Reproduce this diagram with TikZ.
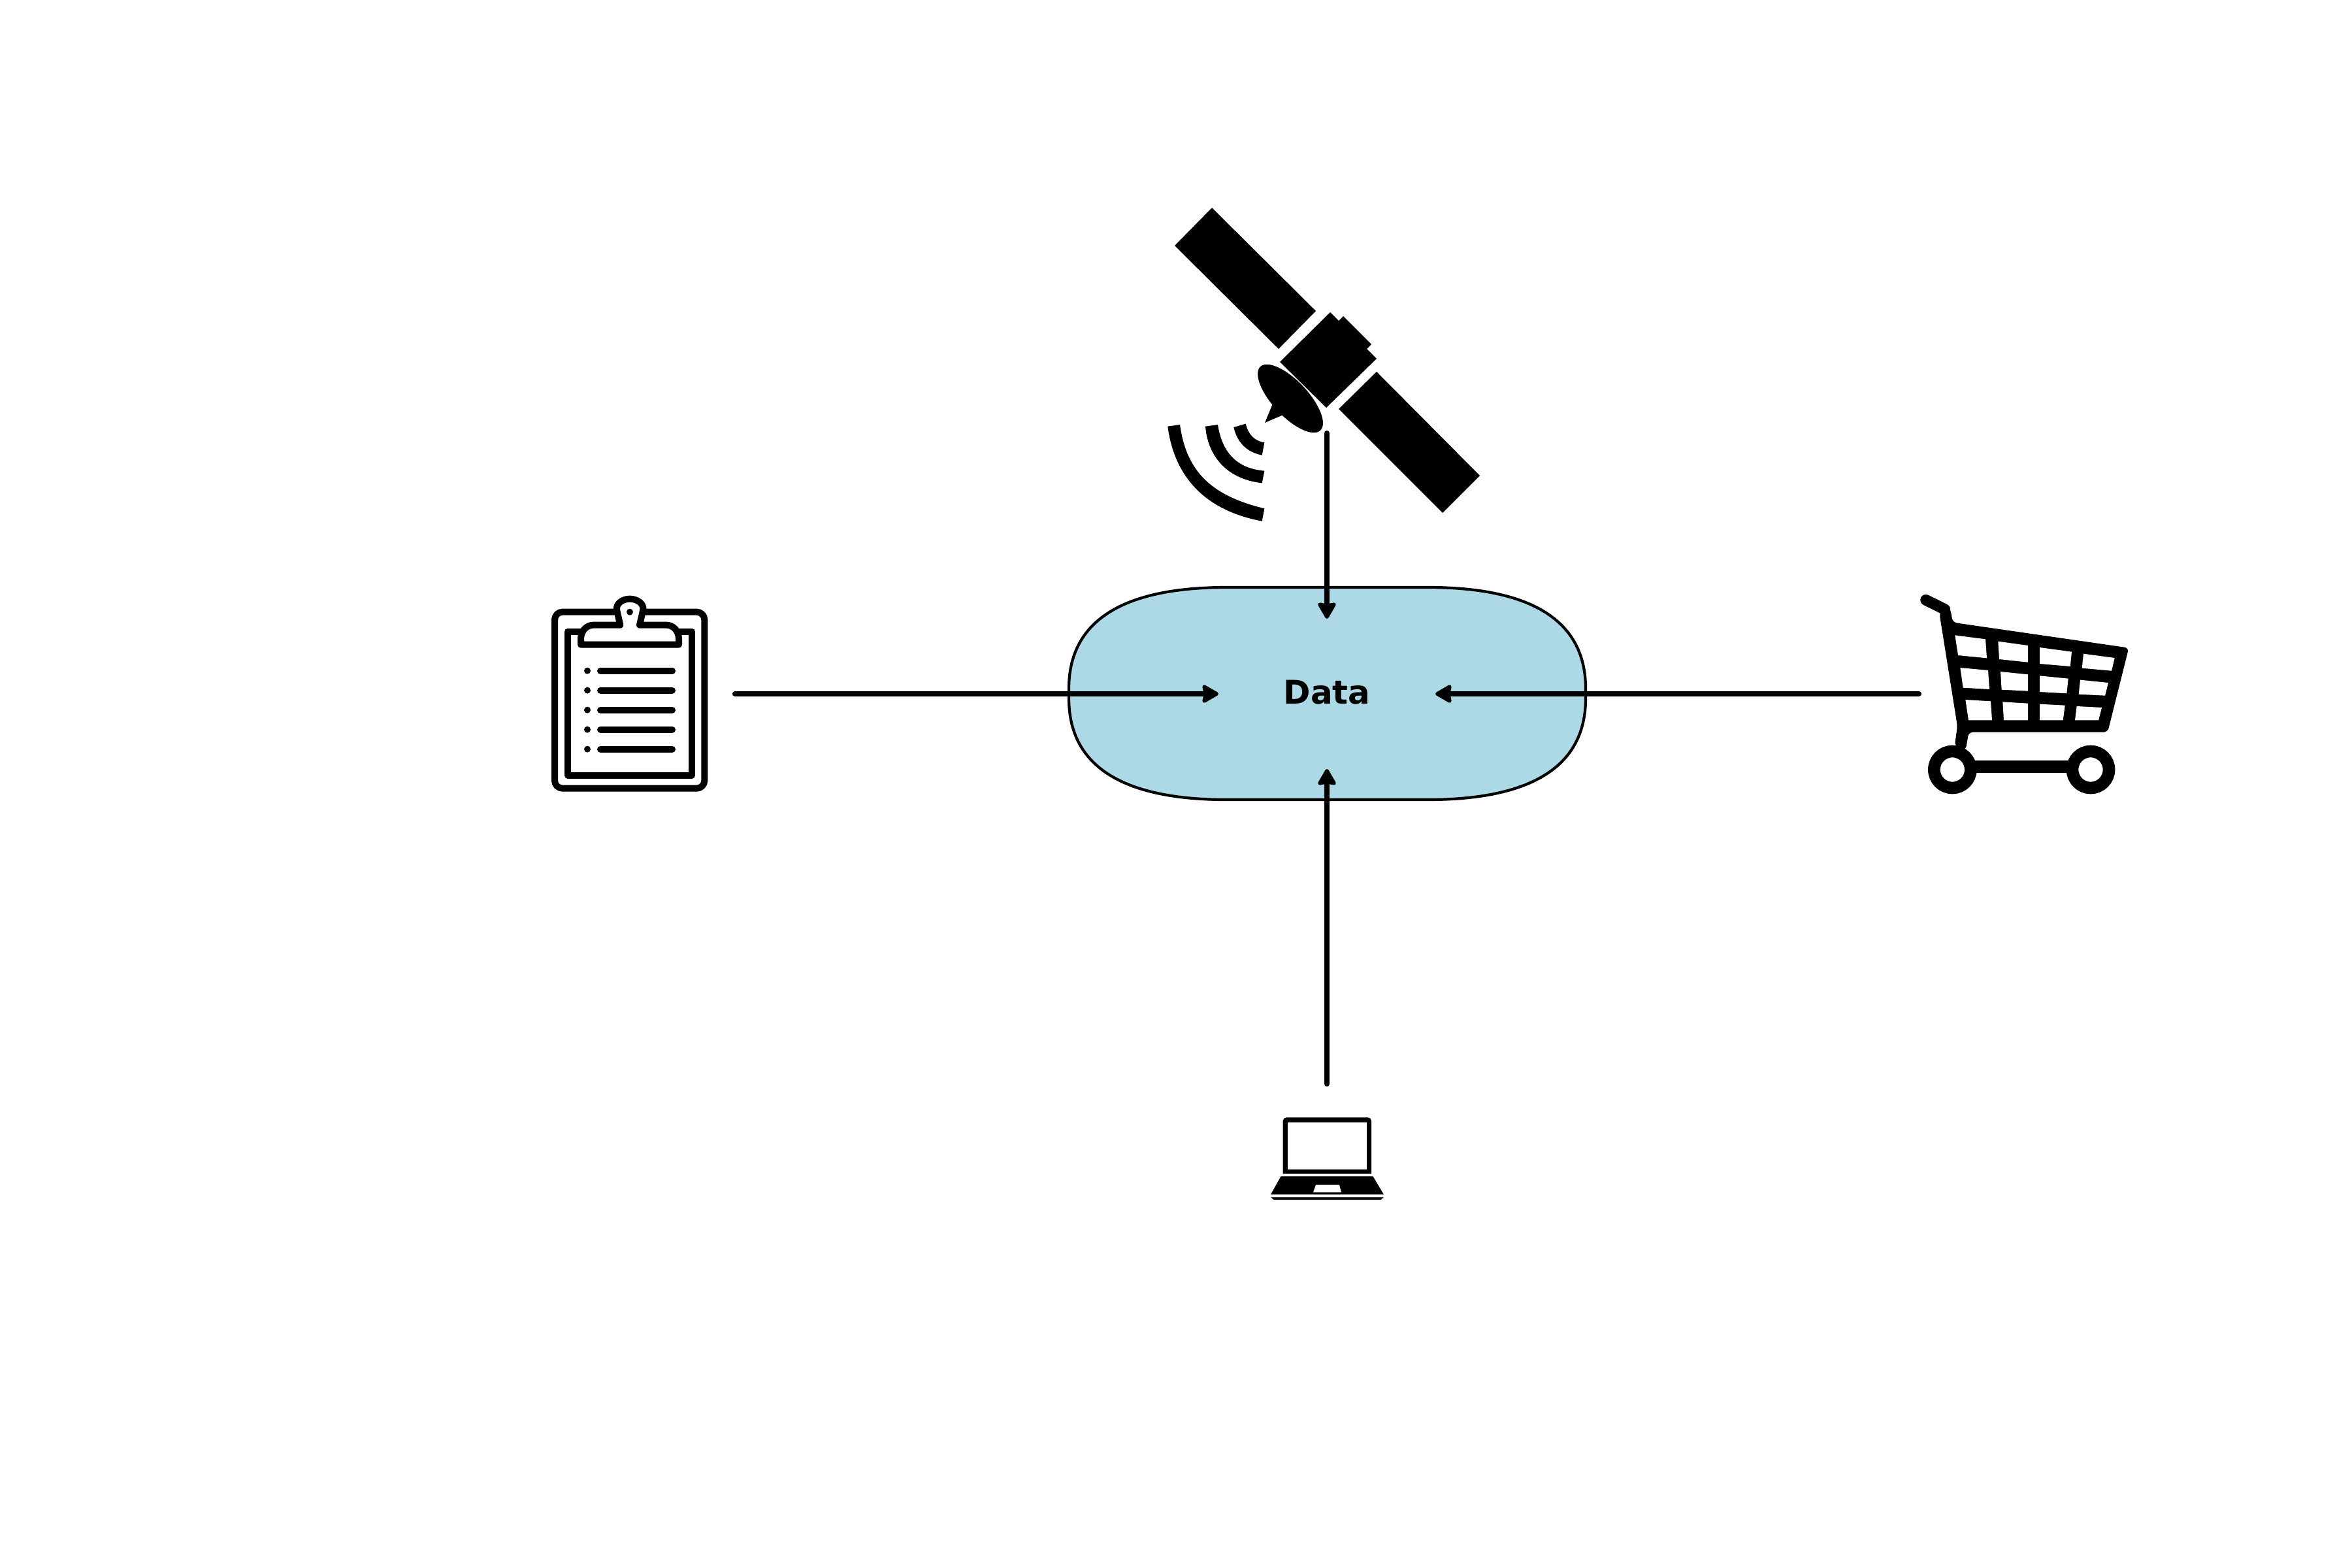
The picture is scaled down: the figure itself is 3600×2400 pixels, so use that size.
\documentclass[tikz,border=0pt]{standalone}
\usepackage{fontspec}
\setmainfont{DejaVu Sans}
\usetikzlibrary{arrows.meta}
\definecolor{datablue}{HTML}{ADD8E6}
\tikzset{
  flow/.style={line width=2.3pt,line cap=round,-{Stealth[length=8pt,width=9pt,inset=.8pt,line width=1.6pt,round]}},
  clipline/.style={line width=2.85pt,line join=round,line cap=round},
  wheel/.style={line width=5.3pt},
  hole/.style={fill=white}
}
\begin{document}
\begin{tikzpicture}[x=0.01cm,y=-0.01cm]
    \useasboundingbox (0,0) rectangle (3600,2400);

    % Central blob
    \draw[fill=datablue,line width=1.2pt] (1636,1054) .. controls (1636,951) and (1717,899) .. (1878,899)
        -- (2185,899) .. controls (2346,899) and (2427,951) .. (2427,1054)
        -- (2427,1069) .. controls (2427,1172) and (2346,1224) .. (2185,1224)
        -- (1878,1224) .. controls (1717,1224) and (1636,1172) .. (1636,1069) -- cycle;
    \node[font=\bfseries\fontsize{14.2}{17}\selectfont,minimum width=332*0.2845pt,minimum height=230*0.2845pt,
        inner sep=0pt,outer sep=0pt,text depth=1.7pt] (data) at (2031,1062) {Data};

    % Satellite
    \fill (1855,318) -- (1798,376) -- (1957,534) -- (2014,476) -- cycle; % Upper panel
    \fill (2107,569) -- (2265,728) -- (2208,785) -- (2049,626) -- cycle; % Lower panel
    \fill (2036,478) -- (2049,491) -- (2056,484) -- (2099,527) -- (2092,534) -- (2107,549) -- (2030,624) -- (1959,554) -- cycle; % Body
    \fill[rotate around={-46.8:(1975,610)}] (1975,610) ellipse (67 and 27); % Dish
    \fill (1948,618) -- (1936,647) -- (1964,635) -- (1975,610) -- cycle;

    % Radio waves
    \begin{scope}[shift={(1780,630)},scale=1/3]
        \fill (22,68) .. controls (50,285) and (180,452) .. (455,503) -- (466,445) .. controls (216,385) and (107,270) .. (78,60) -- cycle;
        \fill (195,68) .. controls (205,200) and (290,310) .. (455,328) -- (466,272) .. controls (320,260) and (268,165) .. (252,60) -- cycle;
        \fill (325,72) .. controls (340,140) and (385,187) .. (455,200) -- (466,142) .. controls (420,135) and (392,105) .. (380,56) -- cycle;
    \end{scope}

    % Clipboard
    \begin{scope}[shift={(820,890)},scale=1/3]
        \draw[clipline,rounded corners=3.4pt] (360,140) -- (87,140) -- (87,950) -- (775,950) -- (775,140) -- (505,140); % Board
        \draw[clipline] (205,230) -- (147,230) -- (147,890) -- (717,890) -- (717,230) -- (655,230); % Paper
        % Clip
        \draw[clipline] (207,290) -- (207,265) .. controls (207,225) and (235,200) .. (265,200) -- (388,200) -- (372,130)
            .. controls (368,100) and (400,80) .. (432,80) .. controls (464,80) and (497,100) .. (493,130) -- (477,200)
            -- (600,200) .. controls (630,200) and (657,225) .. (657,265) -- (657,290) -- cycle;
        \fill (432,140) circle (15);
        % List
        \fill (237,410) circle (15);
        \fill (237,500) circle (15);
        \fill (237,590) circle (15);
        \fill (237,680) circle (15);
        \fill (237,770) circle (15);
        \draw[clipline] (297,410) -- (627,410);
        \draw[clipline] (297,500) -- (627,500);
        \draw[clipline] (297,590) -- (627,590);
        \draw[clipline] (297,680) -- (627,680);
        \draw[clipline] (297,770) -- (627,770);
    \end{scope}

    % Shopping cart
    \begin{scope}[shift={(2920,890)},scale=1/3]
        \draw[line width=4.8pt,line cap=round] (83,85) -- (170,128); % Handle
        \fill[rounded corners=1.8pt] (145,145) -- (228,665) -- (215,755) -- (266,775) -- (280,692) -- (918,692) -- (1015,305)
            -- (207,188) -- (195,125) -- (175,103) -- cycle; % Frame
        % Basket cells
        \fill[hole] (217,247) -- (357,265) -- (363,352) -- (231,339) -- cycle;
        \fill[hole] (415,275) -- (552,294) -- (552,371) -- (420,357) -- cycle;
        \fill[hole] (606,303) -- (753,323) -- (746,390) -- (606,378) -- cycle;
        \fill[hole] (807,332) -- (950,351) -- (936,410) -- (800,398) -- cycle;
        \fill[hole] (241,396) -- (369,408) -- (375,495) -- (254,488) -- cycle;
        \fill[hole] (426,414) -- (552,427) -- (552,503) -- (431,497) -- cycle;
        \fill[hole] (606,433) -- (737,446) -- (730,514) -- (606,507) -- cycle;
        \fill[hole] (792,452) -- (921,465) -- (906,524) -- (785,518) -- cycle;
        \fill[hole] (265,543) -- (381,550) -- (387,637) -- (279,637) -- cycle;
        \fill[hole] (436,553) -- (552,560) -- (552,637) -- (441,637) -- cycle;
        \fill[hole] (606,563) -- (722,569) -- (713,637) -- (606,637) -- cycle;
        \fill[hole] (776,573) -- (891,579) -- (876,637) -- (768,637) -- cycle;
        % Wheels
        \draw[wheel] (288,850) -- (760,850);
        \draw[wheel] (205,864) circle (84);
        \draw[wheel] (840,864) circle (84);
    \end{scope}

    % Laptop
    \begin{scope}[shift={(1920,1690)},scale=1/3]
        \fill (131,320) [rounded corners=1.5pt] -- (131,61) -- (537,61) [sharp corners] -- (537,320) -- cycle; % Screen
        \fill[hole] (153,84) rectangle (516,300);
        \fill (122,331) -- (544,331) -- (594,415) -- (75,415) -- cycle; % Base
        \fill[hole] (282,371) -- (390,371) -- (399,405) -- (270,405) -- cycle; % Touchpad
        \fill (75,427) -- (594,427) -- (580,440) -- (90,440) -- cycle;
    \end{scope}

    % Arrow ends
    \coordinate (satellite) at (2031,663);
    \coordinate (clipboard) at (1125,1062);
    \coordinate (cart) at (2937,1062);
    \coordinate (laptop) at (2031,1659);

    % Arrows
    \draw[flow] (satellite) -- (data.north);
    \draw[flow] (clipboard) -- (data.west);
    \draw[flow] (cart) -- (data.east);
    \draw[flow] (laptop) -- (data.south);
\end{tikzpicture}
\end{document}
